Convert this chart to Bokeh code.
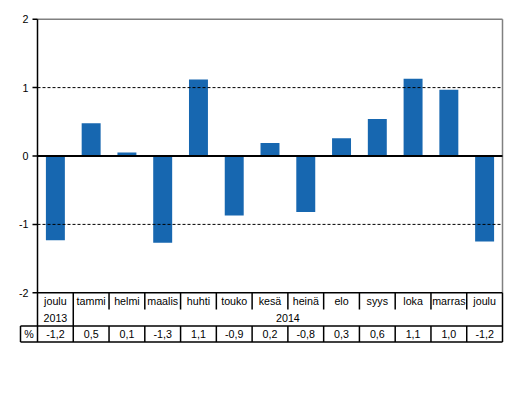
from bokeh.plotting import figure
from bokeh.models import Range1d
from bokeh.core.properties import value
from bokeh.embed import file_html
from bokeh.resources import INLINE

# ---- data ----
months = ["joulu", "tammi", "helmi", "maalis", "huhti", "touko", "kesä",
          "heinä", "elo", "syys", "loka", "marras", "joulu"]
years = ["2013", "2014"]
year_spans = [(0, 1), (1, 13)]
change = [-1.23, 0.48, 0.05, -1.27, 1.12, -0.87, 0.19, -0.82, 0.26, 0.54, 1.13, 0.97, -1.25]
table_labels = ["-1,2", "0,5", "0,1", "-1,3", "1,1", "-0,9", "0,2", "-0,8",
                "0,3", "0,6", "1,1", "1,0", "-1,2"]
row_head = "%"
yticks = [-2, -1, 0, 1, 2]
ytick_labels = ["-2", "-1", "0", "1", "2"]
dashed_levels = [-1, 1]

# ---- layout ----
n = len(months)
cell_px = (502 - 37) / n
unit_px = 68.4
zero_px = 155.5
FONT = value("Liberation Sans")
FS = "10.7px"
BAR = "#1767B0"

ORIGIN = 0
W, H = 512, 370
x0 = (ORIGIN - 37) / cell_px
x1 = (ORIGIN + W - 37) / cell_px
y1 = (zero_px - ORIGIN) / unit_px
y0 = (zero_px - (ORIGIN + H)) / unit_px

r1 = -2.0
r2 = (zero_px - 309) / unit_px
r3 = (zero_px - 325.5) / unit_px
r4 = (zero_px - 341.5) / unit_px
head_left = (20 - 37) / cell_px

p = figure(width=W, height=H, output_backend="svg", toolbar_location=None,
           x_range=Range1d(x0, x1), y_range=Range1d(y0, y1), min_border=0)
p.axis.visible = False
p.grid.visible = False
p.outline_line_color = None
p.background_fill_color = "white"
p.border_fill_color = "white"

xc = [i + 0.5 for i in range(n)]

# bars
p.vbar(x=xc, top=change, bottom=0, width=0.53, fill_color=BAR, line_color=None)

# dashed gridlines
p.segment(x0=[0] * len(dashed_levels), x1=[n] * len(dashed_levels), y0=dashed_levels,
          y1=dashed_levels, line_color="black", line_width=1, line_dash="3 2")
# top and right plot border (gray)
p.segment(x0=[0, n], x1=[n, n], y0=[yticks[-1], yticks[-1]], y1=[yticks[-1], yticks[0]],
          line_color="#808080", line_width=1.5)
# zero line
p.segment(x0=[0], x1=[n], y0=[0], y1=[0], line_color="black", line_width=2)

# left axis line incl. table and ticks
p.segment(x0=[0], x1=[0], y0=[yticks[-1]], y1=[r4], line_color="black", line_width=1.5)
p.ray(x=[0] * len(yticks), y=yticks, length=5, length_units="screen", angle=3.14159265,
      line_color="black", line_width=1.5)
p.text(x=[0] * len(yticks), y=yticks, text=ytick_labels, x_offset=-9,
       text_align="right", text_baseline="middle", text_font=FONT,
       text_font_size=FS, text_color="black")

# table lines
p.segment(x0=[0, head_left, head_left], x1=[n, n, n], y0=[r1, r3, r4], y1=[r1, r3, r4],
          line_color="black", line_width=1.5)
p.segment(x0=[n, head_left], x1=[n, head_left], y0=[r1, r3], y1=[r4, r4],
          line_color="black", line_width=1.5)
# month row separators
sep1 = list(range(1, n))
year_breaks = [b for a, b in year_spans[:-1]]
p.segment(x0=sep1, x1=sep1, y0=[r1] * len(sep1),
          y1=[r3 if s in year_breaks else r2 for s in sep1],
          line_color="black", line_width=1.5)
# value row separators
p.segment(x0=sep1, x1=sep1, y0=[r3] * len(sep1), y1=[r4] * len(sep1),
          line_color="black", line_width=1.5)

# table texts
p.text(x=xc, y=[(r1 + r2) / 2] * n, text=months, text_align="center",
       text_baseline="middle", text_font=FONT, text_font_size=FS, text_color="black")
p.text(x=[(a + b) / 2 for a, b in year_spans], y=[(r2 + r3) / 2] * len(years), text=years,
       text_align="center", text_baseline="middle", text_font=FONT, text_font_size=FS,
       text_color="black")
p.text(x=xc, y=[(r3 + r4) / 2] * n, text=table_labels, text_align="center",
       text_baseline="middle", text_font=FONT, text_font_size=FS, text_color="black")
p.text(x=[head_left / 2], y=[(r3 + r4) / 2], text=[row_head], text_align="center",
       text_baseline="middle", text_font=FONT, text_font_size=FS, text_color="black")

open("out.html", "w").write(file_html(p, INLINE))
